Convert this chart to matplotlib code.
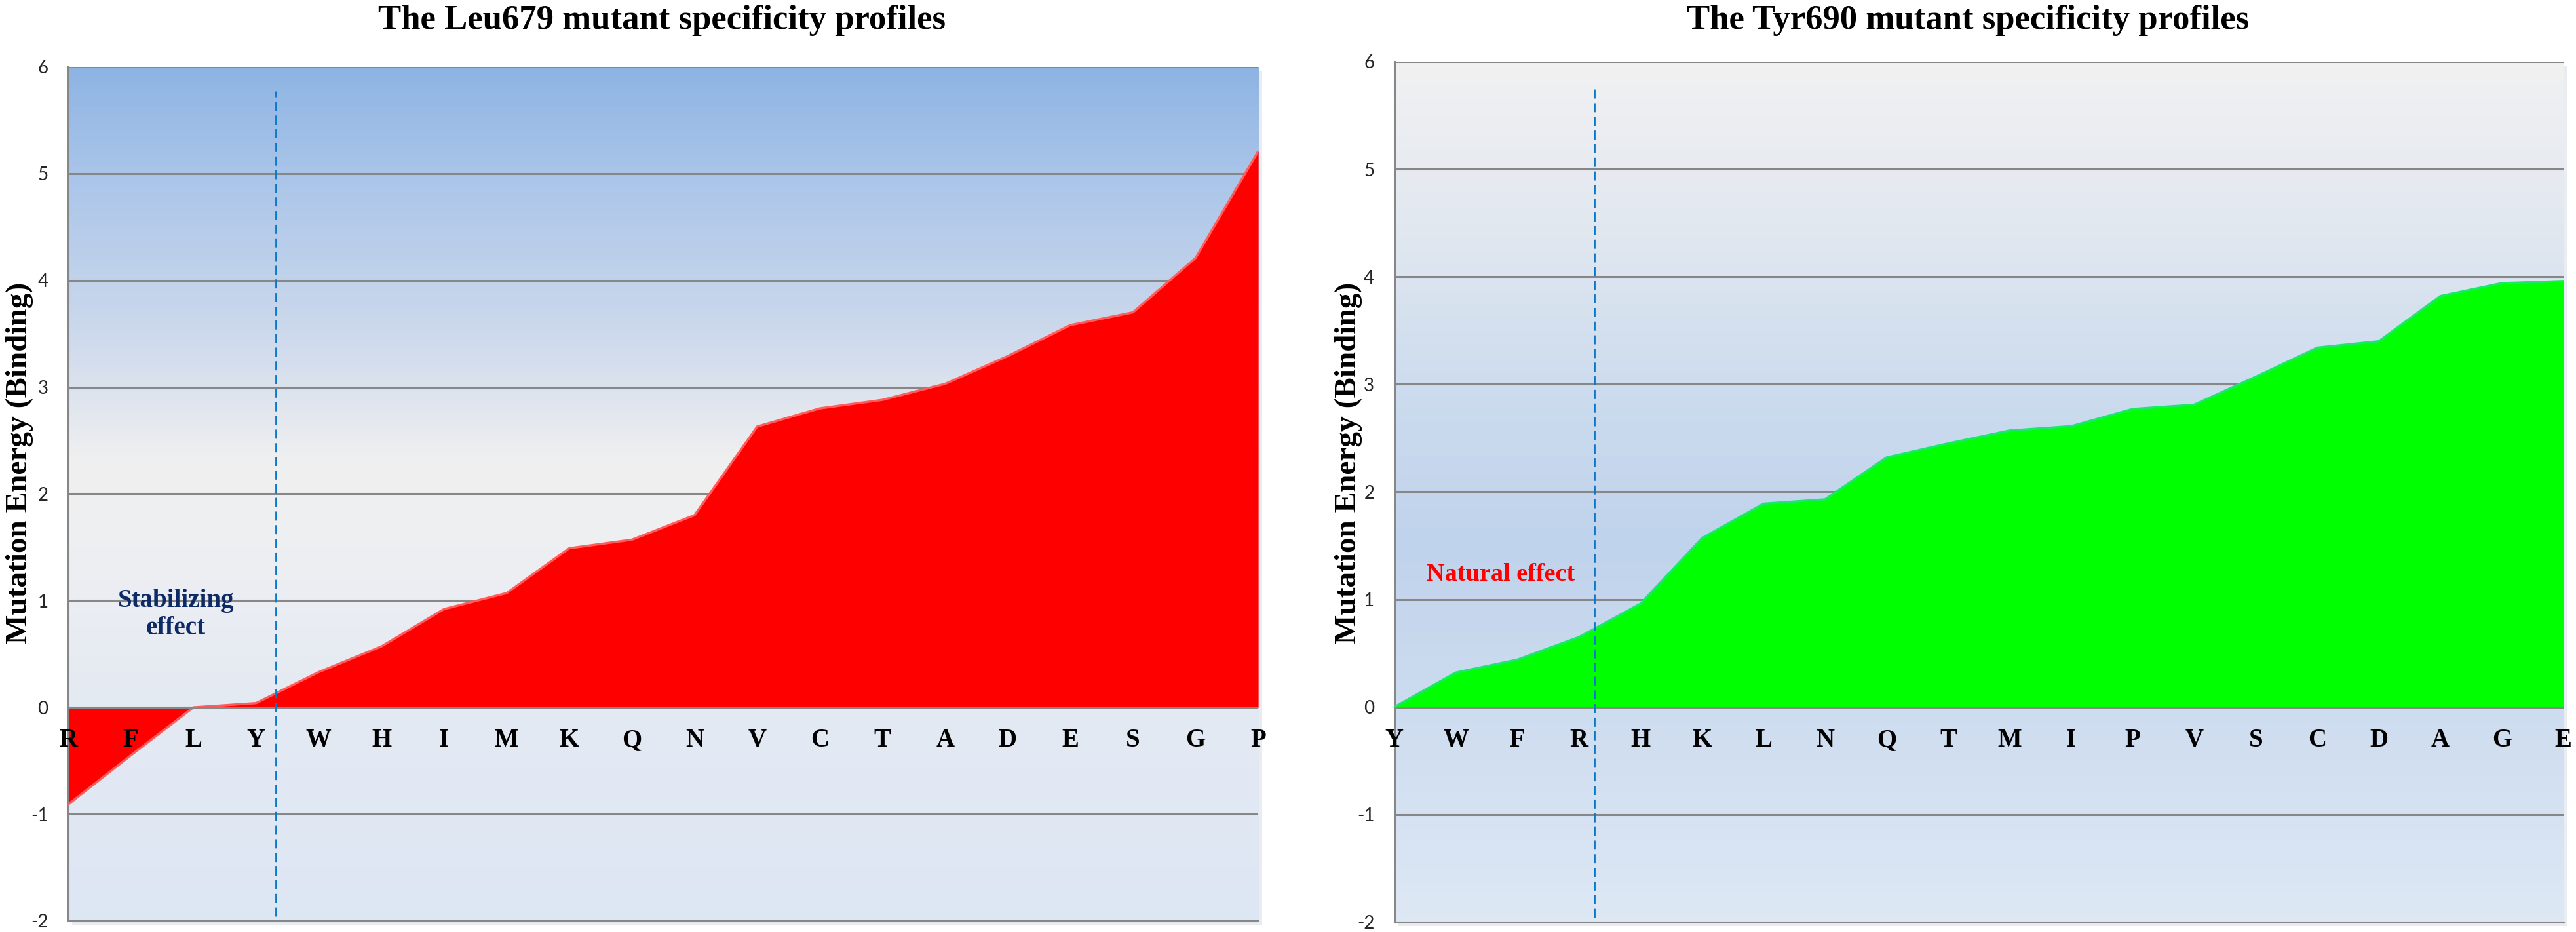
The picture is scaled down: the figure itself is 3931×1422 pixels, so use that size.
import numpy as np
import matplotlib
matplotlib.use("Agg")
import matplotlib.pyplot as plt
from matplotlib.colors import LinearSegmentedColormap
from matplotlib.patches import Rectangle

# data
leu_labels = list("RFLYWHIMKQNVCTADESGP")
leu_values = [-0.91, -0.45, 0.0, 0.04, 0.33, 0.57, 0.92, 1.07, 1.49, 1.57,
              1.80, 2.63, 2.80, 2.88, 3.03, 3.29, 3.58, 3.70, 4.21, 5.21]
tyr_labels = list("YWFRHKLNQTMIPVSCDAGE")
tyr_values = [0.0, 0.32, 0.44, 0.65, 0.96, 1.57, 1.89, 1.93, 2.32, 2.45,
              2.57, 2.61, 2.77, 2.81, 3.07, 3.34, 3.40, 3.82, 3.94, 3.96]
yticks = [-2, -1, 0, 1, 2, 3, 4, 5, 6]

SERIF = "Liberation Serif"

fig = plt.figure(figsize=(39.31, 14.22), dpi=100)
fig.patch.set_facecolor("white")


def gradient_bg(ax, stops):
    # stops: list of (y value, rgb) from bottom to top
    ys = np.linspace(-2, 6, 400)
    pos = [(s[0] + 2) / 8 for s in stops]
    cmap = LinearSegmentedColormap.from_list(
        "bg", [(p, tuple(c / 255 for c in rgb)) for p, (_, rgb) in zip(pos, stops)])
    img = ((ys + 2) / 8).reshape(-1, 1)
    ax.imshow(img, cmap=cmap, aspect="auto", origin="lower",
              extent=[0, 19, -2, 6], zorder=0, vmin=0, vmax=1)


def panel(rect, labels, values, fill, edge, stops, title, title_x, dash_x):
    # soft shadow behind the plot area
    fig.patches.append(Rectangle((rect[0] + 0.0015, rect[1] - 0.004), rect[2], rect[3],
                                 transform=fig.transFigure, facecolor="#e9edf2",
                                 edgecolor="none", zorder=-5))
    ax = fig.add_axes(rect)
    x = np.arange(len(labels))
    gradient_bg(ax, stops)
    for y in yticks:
        ax.axhline(y, color="#878787", lw=2.2, zorder=1)
    ax.fill_between(x, values, 0, color=fill, zorder=2, lw=0)
    ax.plot(x, values, color=edge, lw=2.5, zorder=3)
    ax.axhline(0, color="#878787", lw=2.2, zorder=3)
    ax.plot([dash_x, dash_x], [-1.96, 5.77], color="#0a78c8", lw=2,
            ls=(0, (5, 2.5)), zorder=4)
    for i, lab in enumerate(labels):
        ax.text(i, -0.31, lab, ha="center", va="center", fontsize=28,
                family=SERIF, fontweight="bold", color="black", zorder=5)
    ax.set_xlim(0, len(labels) - 1)
    ax.set_ylim(-2, 6)
    ax.set_xticks([])
    ax.set_yticks(yticks)
    ax.set_yticklabels([str(t) for t in yticks], family="Lato", fontsize=20,
                       color="#262626")
    ax.tick_params(axis="y", length=0, pad=22)
    for s in ["top", "right"]:
        ax.spines[s].set_visible(False)
    for s in ["left", "bottom"]:
        ax.spines[s].set_color("#878787")
        ax.spines[s].set_linewidth(2.2)
    fig.text(title_x, 0.978, title, ha="center", va="center", fontsize=38,
             family=SERIF, fontweight="bold")
    return ax


left_stops = [(-2, (221, 230, 243)), (0, (228, 234, 243)), (1.5, (238, 239, 242)),
              (2.3, (240, 240, 240)), (3.5, (205, 217, 236)), (5.0, (170, 197, 233)),
              (6, (142, 180, 227))]
right_stops = [(-2, (222, 232, 245)), (0, (205, 220, 239)), (1.5, (192, 211, 236)),
               (3, (205, 220, 238)), (4.5, (226, 232, 240)), (6, (241, 241, 242))]

ax1 = panel([0.02646, 0.0120, 0.4620, 0.9163], leu_labels, leu_values,
            "#ff0000", "#ff5c5c", left_stops,
            "The Leu679 mutant specificity profiles", 0.257, 3.32)
ax1.text(1.72, 0.87, "Stabilizing\neffect", ha="center", va="center", fontsize=28,
         family=SERIF, fontweight="bold", color="#0d2a66", zorder=6, linespacing=1.2)
fig.text(0.0075, 0.503, "Mutation Energy (Binding)", rotation=90, ha="center",
         va="center", fontsize=34, family=SERIF, fontweight="bold")

ax2 = panel([0.5413, 0.0106, 0.4538, 0.9233], tyr_labels, tyr_values,
            "#00ff00", "#19e86a", right_stops,
            "The Tyr690 mutant specificity profiles", 0.764, 3.25)
ax2.text(1.73, 1.23, "Natural effect", ha="center", va="center", fontsize=27.5,
         family=SERIF, fontweight="bold", color="#ff0000", zorder=6)
fig.text(0.5235, 0.503, "Mutation Energy (Binding)", rotation=90, ha="center",
         va="center", fontsize=34, family=SERIF, fontweight="bold")

fig.savefig("out.png", dpi=100)
